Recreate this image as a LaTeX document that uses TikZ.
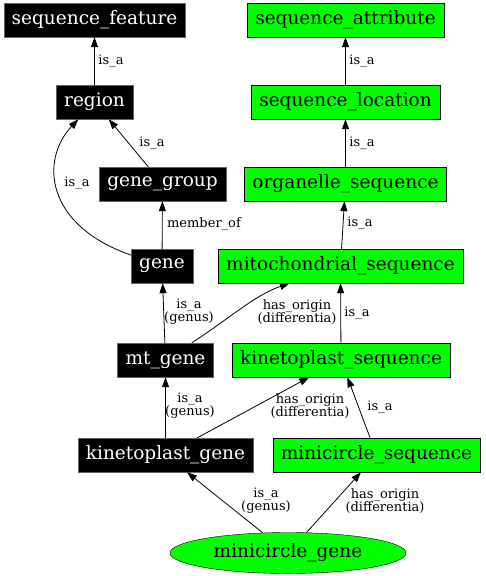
\documentclass[tikz,border=0pt]{standalone}
\usepackage{fontspec}
\setmainfont{DejaVu Serif}
\usetikzlibrary{arrows.meta,shapes.geometric}
\definecolor{sogreen}{RGB}{0,255,0}
\definecolor{soframe}{RGB}{100,100,100}
\begin{document}
\begin{tikzpicture}[%
		x=1pt, y=-1pt,
		term/.style={rectangle, minimum height=34pt, inner xsep=8pt, inner ysep=0pt, font=\fontsize{18.5}{20}\selectfont},
		blackterm/.style={term, fill=black, draw=soframe, text=white},
		greenterm/.style={term, fill=sogreen, draw=black},
		rel/.style={draw, line width=0.8pt, -{Triangle[length=10pt,width=7pt]}},
		lbl/.style={align=center, inner sep=0pt, font=\fontsize{13}{13.3}\selectfont}
		]
		\useasboundingbox (0,0) rectangle (485,576);

		%% left column: black terms
		\node[blackterm] (sfeat)  at (94.5,20)  {sequence\_feature};
		\node[blackterm] (region) at (94.5,102) {region};
		\node[blackterm] (ggroup) at (162.5,184) {gene\_group};
		\node[blackterm] (gene)   at (162,266)  {gene};
		\node[blackterm] (mtgene) at (165.5,360) {mt\_gene};
		\node[blackterm] (kgene)  at (165.5,455) {kinetoplast\_gene};

		%% right column: green terms
		\node[greenterm] (sattr)   at (345.5,20)  {sequence\_attribute};
		\node[greenterm] (sloc)    at (345.5,102) {sequence\_location};
		\node[greenterm] (orgseq)  at (345.5,184) {organelle\_sequence};
		\node[greenterm] (mitoseq) at (340.5,266) {mitochondrial\_sequence};
		\node[greenterm] (kseq)    at (341,360)   {kinetoplast\_sequence};
		\node[greenterm] (mcseq)   at (376.5,455) {minicircle\_sequence};

		\node[ellipse, fill=sogreen, draw=black, minimum width=236pt, minimum height=41pt, inner sep=0pt, font=\fontsize{18.5}{20}\selectfont] (mcgene) at (288,553) {minicircle\_gene};

		%% relations
		\draw[rel] (region) -- (sfeat) node[lbl, at={(111,61)}] {is\_a};
		\draw[rel] (ggroup) -- (region) node[lbl, at={(152,143)}] {is\_a};
		\draw[rel] (gene) .. controls (45,225) and (40,160) .. (region) node[lbl, at={(77,183)}] {is\_a};
		\draw[rel] (gene) -- (ggroup) node[lbl, at={(204,224)}] {member\_of};
		\draw[rel] (mtgene) -- (gene) node[lbl, at={(189,312)}] {is\_a\\(genus)};
		\draw[rel] (mtgene) .. controls (230,318) and (255,295) .. (mitoseq) node[lbl, at={(297,312)}] {has\_origin\\(differentia)};
		\draw[rel] (kgene) -- (mtgene) node[lbl, at={(190,406)}] {is\_a\\(genus)};
		\draw[rel] (kgene) -- (kseq) node[lbl, at={(310,406)}] {has\_origin\\(differentia)};
		\draw[rel] (mcgene) -- (kgene) node[lbl, at={(266,501)}] {is\_a\\(genus)};
		\draw[rel] (mcgene) -- (mcseq) node[lbl, at={(385,501)}] {has\_origin\\(differentia)};

		\draw[rel] (sloc) -- (sattr) node[lbl, at={(362,61)}] {is\_a};
		\draw[rel] (orgseq) -- (sloc) node[lbl, at={(362,143)}] {is\_a};
		\draw[rel] (mitoseq) -- (orgseq) node[lbl, at={(360,223)}] {is\_a};
		\draw[rel] (kseq) -- (mitoseq) node[lbl, at={(357,313)}] {is\_a};
		\draw[rel] (mcseq) -- (kseq) node[lbl, at={(380,407)}] {is\_a};
	\end{tikzpicture}
\end{document}
